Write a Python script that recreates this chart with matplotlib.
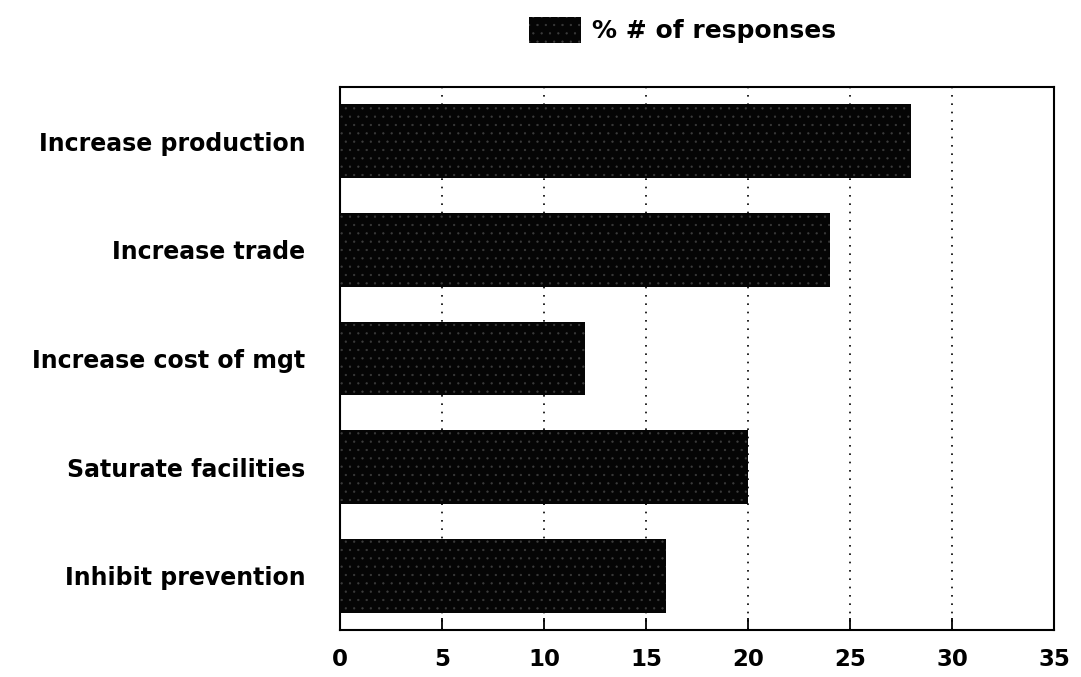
import matplotlib
matplotlib.use("Agg")
import matplotlib.pyplot as plt

categories = ["Increase production", "Increase trade", "Increase cost of mgt",
              "Saturate facilities", "Inhibit prevention"]
values = [28, 24, 12, 20, 16]
xticks = [0, 5, 10, 15, 20, 25, 30, 35]

plt.rcParams['font.family'] = ['DejaVu Sans']
plt.rcParams['hatch.linewidth'] = 0.4

fig = plt.figure(figsize=(10.81, 6.77), dpi=100)
ax = fig.add_axes([340 / 1081, 1 - 630 / 677, 714 / 1081, 543 / 677])

pos = list(range(len(categories)))[::-1]
# grey speckle on black, like the old print texture
bars = ax.barh(pos, values, height=0.68, color='#050505', edgecolor='#3c3c3c',
               hatch='..', linewidth=0, label='% # of responses', zorder=3)

ax.set_xlim(0, 35)
ax.set_ylim(-0.5, 4.5)
ax.set_xticks(xticks)
ax.set_xticklabels([str(t) for t in xticks], fontsize=16.5, fontweight='bold')
ax.set_yticks(pos)
ax.set_yticklabels(categories, fontsize=17, fontweight='bold')
ax.tick_params(axis='y', length=0, pad=25)
ax.tick_params(axis='x', direction='in', length=9, width=1.3, pad=13)
ax.xaxis.grid(True, linestyle=(0, (1, 4)), color='black', linewidth=1.2, zorder=1)
for s in ax.spines.values():
    s.set_linewidth(1.5)

fig.legend(handles=[bars], loc='upper left', bbox_to_anchor=(516 / 1081, 1 - 4 / 677),
           frameon=False, prop={'size': 18, 'weight': 'bold'}, borderpad=0,
           handlelength=2.1, handleheight=1.25, handletextpad=0.45)

fig.savefig("out.png", dpi=100)
